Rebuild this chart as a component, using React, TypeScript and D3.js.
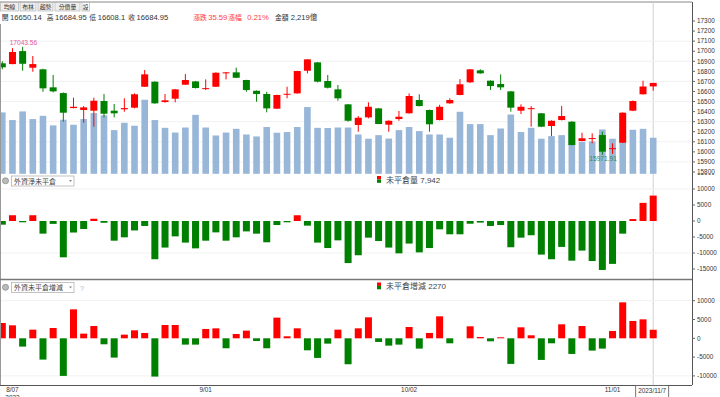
import React from "react";
import * as d3 from "d3";

// trading days, 2023/8/04 .. 2023/11/07
const dates = [
  "8/04", "8/07", "8/08", "8/09", "8/10", "8/11", "8/14", "8/15", "8/16", "8/17",
  "8/18", "8/21", "8/22", "8/23", "8/24", "8/25", "8/28", "8/29", "8/30", "8/31",
  "9/01", "9/04", "9/05", "9/06", "9/07", "9/08", "9/11", "9/12", "9/13", "9/14",
  "9/15", "9/18", "9/19", "9/20", "9/21", "9/22", "9/25", "9/26", "9/27", "9/28",
  "10/02", "10/03", "10/04", "10/05", "10/06", "10/11", "10/12", "10/13", "10/16", "10/17",
  "10/18", "10/19", "10/20", "10/23", "10/24", "10/25", "10/26", "10/27", "10/30", "10/31",
  "11/01", "11/02", "11/03", "11/06", "11/07",
];

const opens = [
  16880, 16872, 17001, 16836, 16820, 16641, 16584, 16435, 16416, 16409,
  16505, 16409, 16423, 16439, 16647, 16697, 16495, 16528, 16667, 16700,
  16629, 16647, 16780, 16790, 16714, 16607, 16575, 16429, 16573, 16581,
  16806, 16889, 16704, 16621, 16472, 16267, 16343, 16432, 16270, 16326,
  16383, 16515, 16416, 16316, 16482, 16565, 16691, 16810, 16707, 16674,
  16601, 16409, 16430, 16383, 16257, 16316, 16300, 16108, 16133, 16167,
  16033, 16091, 16409, 16572, 16650.14,
];
const highs = [
  16900, 17030, 17043.56, 16952, 16825, 16763, 16590, 16538, 16455, 16538,
  16575, 16475, 16532, 16581, 16813, 16700, 16575, 16625, 16773, 16705,
  16720, 16790, 16793, 16836, 16716, 16610, 16597, 16568, 16647, 16806,
  16922, 16892, 16763, 16664, 16475, 16356, 16492, 16435, 16313, 16406,
  16581, 16572, 16420, 16468, 16532, 16723, 16823, 16820, 16710, 16770,
  16604, 16472, 16455, 16386, 16313, 16455, 16303, 16190, 16184, 16200,
  16085, 16392, 16510, 16707, 16684.95,
];
const lows = [
  16820, 16870, 16806, 16796, 16597, 16591, 16300, 16432, 16290, 16250,
  16343, 16343, 16399, 16432, 16645, 16478, 16488, 16492, 16665, 16630,
  16614, 16645, 16720, 16733, 16597, 16498, 16393, 16425, 16532, 16578,
  16780, 16690, 16630, 16508, 16300, 16200, 16333, 16275, 16200, 16309,
  16380, 16452, 16200, 16313, 16478, 16562, 16684, 16776, 16614, 16614,
  16399, 16376, 16250, 16246, 16157, 16313, 16065, 16105, 16085, 15971.91,
  15980, 16088, 16405, 16570, 16608.1,
];
const closes = [
  16840, 16992, 16875, 16872, 16631, 16601, 16389, 16448, 16442, 16508,
  16379, 16383, 16435, 16572, 16770, 16482, 16512, 16621, 16714, 16634,
  16633, 16786, 16790, 16736, 16614, 16575, 16432, 16565, 16577, 16803,
  16919, 16697, 16637, 16532, 16309, 16339, 16448, 16277, 16309, 16349,
  16555, 16455, 16274, 16448, 16515, 16671, 16820, 16780, 16654, 16641,
  16439, 16448, 16434, 16250, 16309, 16356, 16068, 16135, 16137, 16002,
  16037, 16389, 16505, 16649.36, 16684.95,
];
// 成交金額 (億)
const volumes = [
  3780, 3310, 3840, 3370, 3570, 2980, 3330, 3020, 3370, 3740,
  3600, 2690, 3140, 2960, 4560, 3310, 2830, 2540, 2850, 3630,
  2850, 2360, 2540, 2770, 2420, 2300, 2880, 2530, 2570, 2880,
  4110, 2830, 2820, 2850, 2850, 2420, 2160, 2380, 2170, 2690,
  2880, 2630, 2420, 2420, 2220, 3820, 3060, 3060, 2380, 2790,
  3650, 2570, 2830, 2160, 2320, 2380, 3100, 1970, 1990, 2730,
  2160, 2500, 2710, 2770, 2219,
];
// 外資淨未平倉
const netOI = [
  -1150, 1800, -400, 1800, -3950, -900, -11350, -3600, -2500, 700,
  -550, -6150, -5100, -2950, -1550, -11950, -8300, -4800, -6750, -8550,
  -6150, -3550, -6150, -5100, -3250, -3950, -6650, -1250, -400, 1800,
  -1450, -6750, -8450, -6050, -13150, -10700, -5200, -6250, -8300, -10100,
  -7050, -9800, -8450, -2600, -4150, -4150, -850, -500, -1550, -1250,
  -8200, -5200, -4450, -10500, -11950, -8100, -12400, -9250, -12500, -15300,
  -13400, -3950, 600, 5670, 7942,
];
// 外資未平倉增減
const oiChange = [
  4070, 3450, -2210, 2300, -5660, 2740, -10000, 7700, 1240, 3270,
  -1590, -5130, 970, 2120, 1420, -10180, 3540, 3540, -1680, -1680,
  2480, 2650, -2650, 1150, 2040, -710, -2650, 5490, 530, 2650,
  -3190, -5220, -1420, 2300, -6900, 2650, 5580, -970, -1950, -1680,
  3010, -2740, 1420, 5840, -1330, 0, 3190, 350, -800, 270,
  -6810, 2920, 800, -5750, -1330, 3720, -4160, 3270, -3270, -2740,
  1950, 9560, 4600, 5040, 2270,
];

const priceTicks = [15800, 15900, 16000, 16100, 16200, 16300, 16400, 16500, 16600, 16700, 16800, 16900, 17000, 17100, 17200, 17300];
const priceGrid = [15900, 16100, 16300, 16500, 16700, 16900, 17100];
const oiTicks = [15000, 10000, 5000, 0, -5000, -10000, -15000];
const chgTicks = [10000, 5000, 0, -5000, -10000];
const dateLabels = ["8/07", "9/01", "10/02", "11/01"];
const tabs = ["均線", "布林", "趨勢", "分價量", "設"];

const RED = "#ff0000";
const GREEN = "#008000";
const AX = 692;
const FONT = "'Liberation Sans', 'Noto Sans CJK TC', sans-serif";
const CJK = 6.8;

const x = d3.scalePoint<string>().domain(dates).range([2.3, 653.2]);
const yPrice = d3.scaleLinear().domain([15800, 17300]).range([172, 21]);
const yVol = d3.scaleLinear().domain([0, 5000]).range([173.8, 92.6]);
const yOI = d3.scaleLinear().domain([-15000, 15000]).range([269, 173]);
const yChg = d3.scaleLinear().domain([-10000, 10000]).range([375.9, 300.7]);

const AxisRight = ({ scale, ticks }: { scale: d3.ScaleLinear<number, number>; ticks: number[] }) => (
  <g>
    {ticks.map((t) => (
      <g key={t} transform={`translate(${AX},${scale(t)})`}>
        <line x1={0} x2={3} stroke="#666" />
        <text x={5} dy="0.35em" fontSize={6.4} fill="#333">{t}</text>
      </g>
    ))}
  </g>
);

const Bars = ({ values, scale }: { values: number[]; scale: d3.ScaleLinear<number, number> }) => (
  <g>
    {values.map((v, i) =>
      v === 0 ? null : (
        <rect
          key={i}
          x={x(dates[i])! - 3.5}
          width={7}
          y={Math.min(scale(v), scale(0))}
          height={Math.abs(scale(v) - scale(0))}
          fill={v > 0 ? RED : GREEN}
        />
      )
    )}
  </g>
);

const Selector = ({ y, label, help }: { y: number; label: string; help?: boolean }) => (
  <g>
    <circle cx={5.5} cy={y + 4.8} r={3} fill="#bbb" stroke="#888" strokeWidth={0.8} />
    <rect x={11.5} y={y} width={62.5} height={10} fill="#fff" stroke="#aaa" strokeWidth={0.7} />
    <text x={14} y={y + 7.6} fontSize={7} fill="#444">{label}</text>
    <path d={`M69,${y + 4} L72,${y + 4} L70.5,${y + 6} Z`} fill="#888" />
    {help && <text x={80} y={y + 8} fontSize={7} fill="#9fb3d4">?</text>}
  </g>
);

const Legend = ({ y, text }: { y: number; text: string }) => (
  <g>
    <rect x={377} y={y} width={4} height={3.4} fill={RED} />
    <rect x={377} y={y + 3.4} width={4} height={3.4} fill={GREEN} />
    <text x={386} y={y + 6.6} fontSize={8} fill="#444">{text}</text>
  </g>
);

export default function App() {
  const last = dates.length - 1;
  const lastX = x(dates[last])!;
  const hiIdx = d3.maxIndex(highs);
  const loIdx = d3.minIndex(lows);
  const chg = closes[last] - closes[last - 1];

  return (
    <svg width={720} height={397} style={{ position: "fixed", left: 0, top: 0, background: "#fff" }} fontFamily={FONT}>
      <defs>
        <clipPath id="c1"><rect x={1} y={24} width={AX - 1} height={150} /></clipPath>
        <clipPath id="c2"><rect x={1} y={174} width={AX - 1} height={105} /></clipPath>
        <clipPath id="c3"><rect x={1} y={280} width={AX - 1} height={105} /></clipPath>
        <clipPath id="a2"><rect x={AX} y={174} width={30} height={105} /></clipPath>
      </defs>

      {/* frame */}
      <line x1={0} x2={AX} y1={2} y2={2} stroke="#888" />
      <line x1={AX + 0.5} x2={AX + 0.5} y1={2} y2={385} stroke="#555" />
      <line x1={0.5} x2={0.5} y1={24} y2={385} stroke="#999" />
      <line x1={lastX} x2={lastX} y1={2} y2={385} stroke="#d0d0d0" />

      {/* tabs */}
      {tabs.map((t, i) => {
        const xs = [0.5, 20, 38, 55, 82];
        const ws = [18, 16, 15, 25, 7.5];
        return (
          <g key={t}>
            <rect x={xs[i]} y={2.5} width={ws[i]} height={8.5} fill={i === 4 ? "#fff" : "#eee"} stroke="#aaa" strokeWidth={0.6} />
            <text x={xs[i] + ws[i] / 2} y={9.3} fontSize={5.8} textAnchor="middle" fill="#333">{t}</text>
          </g>
        );
      })}

      {/* header */}
      <g fontSize={7.6} fill="#333">
        <text x={1.7} y={20} fontSize={CJK}>開</text>
        <text x={10} y={20}>{opens[last].toFixed(2)}</text>
        <text x={46.7} y={20} fontSize={CJK}>高</text>
        <text x={55} y={20}>{highs[last].toFixed(2)}</text>
        <text x={89.3} y={20} fontSize={CJK}>低</text>
        <text x={97.7} y={20}>{lows[last]}</text>
        <text x={128.3} y={20} fontSize={CJK}>收</text>
        <text x={136.5} y={20}>{closes[last].toFixed(2)}</text>
        <g fill="#ff3b3b">
          <text x={193.3} y={20} fontSize={CJK}>漲跌</text>
          <text x={208.3} y={20}>{chg.toFixed(2)}</text>
          <text x={228.3} y={20} fontSize={CJK}>漲幅</text>
          <text x={247.3} y={20}>{((chg / closes[last - 1]) * 100).toFixed(2)}%</text>
        </g>
        <text x={275} y={20} fontSize={CJK}>金額</text>
        <text x={290.7} y={20}>{d3.format(",")(volumes[last])}億</text>
      </g>

      {/* panel 1: price + volume */}
      <g clipPath="url(#c1)">
        {priceGrid.map((t) => (
          <line key={t} x1={1} x2={AX} y1={yPrice(t)} y2={yPrice(t)} stroke="#f1f1f1" />
        ))}
        {volumes.map((v, i) => (
          <rect key={i} x={x(dates[i])! - 3.3} width={6.6} y={yVol(v)} height={yVol(0) - yVol(v)} fill="#98b6d8" />
        ))}
        {dates.map((d, i) => {
          const up = closes[i] >= opens[i];
          const c = up ? RED : GREEN;
          const cx = x(d)!;
          const top = yPrice(Math.max(opens[i], closes[i]));
          const bot = yPrice(Math.min(opens[i], closes[i]));
          return (
            <g key={d}>
              <line x1={cx} x2={cx} y1={yPrice(highs[i])} y2={yPrice(lows[i])} stroke={c} />
              <rect x={cx - 3.5} width={7} y={top} height={Math.max(bot - top, 1)} fill={c} />
            </g>
          );
        })}
        <text x={x(dates[hiIdx])! - 13} y={yPrice(highs[hiIdx]) - 2} fontSize={6.6} fill="#e0589a">{highs[hiIdx]}</text>
        <text x={x(dates[loIdx])! - 13} y={yPrice(lows[loIdx]) + 6.5} fontSize={6.6} fill="#2e8b57">{lows[loIdx]}</text>
      </g>
      <AxisRight scale={yPrice} ticks={priceTicks} />

      {/* panel 2: 外資淨未平倉 */}
      <g clipPath="url(#c2)">
        {[10000, -10000].map((t) => (
          <line key={t} x1={1} x2={AX} y1={yOI(t)} y2={yOI(t)} stroke="#f1f1f1" />
        ))}
        <Bars values={netOI} scale={yOI} />
      </g>
      <g clipPath="url(#a2)">
        <AxisRight scale={yOI} ticks={oiTicks} />
      </g>
      <Selector y={176} label="外資淨未平倉" />
      <Legend y={176} text={`未平倉量 ${d3.format(",")(netOI[last])}`} />
      <line x1={0} x2={AX} y1={279.5} y2={279.5} stroke="#777" strokeWidth={1.5} />

      {/* panel 3: 外資未平倉增減 */}
      <g clipPath="url(#c3)">
        {[10000, -10000].map((t) => (
          <line key={t} x1={1} x2={AX} y1={yChg(t)} y2={yChg(t)} stroke="#f1f1f1" />
        ))}
        <Bars values={oiChange} scale={yChg} />
      </g>
      <AxisRight scale={yChg} ticks={chgTicks} />
      <Selector y={282.5} label="外資未平倉增減" help />
      <Legend y={282.5} text={`未平倉增減 ${oiChange[last]}`} />
      <line x1={0} x2={AX} y1={385.5} y2={385.5} stroke="#555" />

      {/* date axis */}
      {dateLabels.map((d) => (
        <text key={d} x={x(d)} y={392} fontSize={6.4} textAnchor="middle" fill="#333">{d}</text>
      ))}
      <text x={x("8/07")} y={400} fontSize={6.4} textAnchor="middle" fill="#333">2023</text>
      <rect x={lastX - 17.5} y={385.5} width={33} height={12} fill="#fff" stroke="#555" strokeWidth={0.8} />
      <text x={lastX - 1} y={393} fontSize={6.4} textAnchor="middle" fill="#333">2023/11/7</text>
    </svg>
  );
}
